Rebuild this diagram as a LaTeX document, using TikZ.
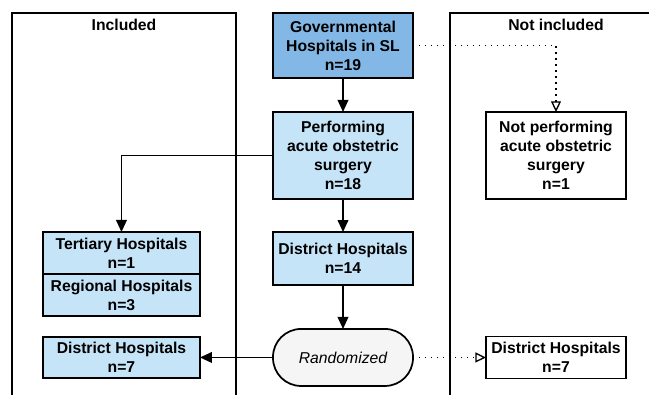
\documentclass[tikz,border=0pt]{standalone}
\usepackage{fontspec}
\setmainfont{Liberation Sans}
\usetikzlibrary{arrows.meta}
\definecolor{govblue}{HTML}{83B8E6}
\definecolor{lightblue}{HTML}{C6E4F7}
\definecolor{randgray}{HTML}{F5F5F5}

\begin{document}
\begin{tikzpicture}
[every node/.style={inner sep=0pt, outer sep=0pt, align=center, font=\fontsize{11.8}{14.25}\selectfont\bfseries},
 hbox/.style={rectangle, minimum width=105pt, line width=1.3pt, draw=black, fill=lightblue},
 wbox/.style={hbox, fill=white},
 solidarrow/.style={line width=1.2pt, -{Triangle[length=9pt, width=8pt]}},
 dotarrow/.style={line width=1pt, dash pattern=on 1pt off 3.5pt, -{Triangle[open, length=8pt, width=7.5pt]}}]
\useasboundingbox (0pt, 0pt) rectangle (486.75pt, -296.25pt);
% columns
\draw [line width=0.9pt] (9pt, -300pt) -- (9pt, -9.75pt) -- (177pt, -9.75pt) -- (177pt, -300pt);
\draw [line width=0.9pt] (337.5pt, -300pt) -- (337.5pt, -9.75pt) -- (490pt, -9.75pt);
\node (inc) at (93pt, -18.75pt) {Included};
\node (notinc) at (417pt, -18.75pt) {Not included};
% boxes
\node (gov) [hbox, fill=govblue, minimum height=48.75pt] at (257.25pt, -34.1pt) {Governmental\\Hospitals in SL\\n=19};
\node (perf) [hbox, minimum height=65.25pt] at (257.25pt, -116.6pt) {Performing\\acute obstetric\\surgery\\n=18};
\node (dist14) [hbox, minimum height=39.75pt] at (257.25pt, -193.9pt) {District Hospitals\\n=14};
\node (rand) [hbox, fill=randgray, rounded corners=21pt, minimum height=42.75pt, font=\fontsize{11.8}{14.25}\selectfont\itshape] at (257.25pt, -268.1pt) {Randomized};
\node (tert) [hbox, minimum width=117.75pt, minimum height=31.5pt] at (91.1pt, -189.75pt) {Tertiary Hospitals\\n=1};
\node (reg) [hbox, minimum width=117.75pt, minimum height=31.5pt, anchor=north] at (tert.south) {Regional Hospitals\\n=3};
\node (dist7a) [hbox, minimum width=117.75pt, minimum height=30.75pt] at (91.1pt, -268.1pt) {District Hospitals\\n=7};
\node (notperf) [wbox, minimum height=65.25pt] at (417pt, -116.6pt) {Not performing\\acute obstetric\\surgery\\n=1};
\node (dist7b) [wbox, minimum height=31.5pt] at (417pt, -268.1pt) {District Hospitals\\n=7};
% connectors
\draw [solidarrow] (gov) to (perf);
\draw [solidarrow] (perf) to (dist14);
\draw [solidarrow] (dist14) to (rand);
\draw [solidarrow] (perf.west) -| (tert.north);
\draw [solidarrow] (rand) to (dist7a);
\draw [dotarrow] (gov.east) -| (notperf.north);
\draw [dotarrow] (rand) to (dist7b);
\end{tikzpicture}
\end{document}
